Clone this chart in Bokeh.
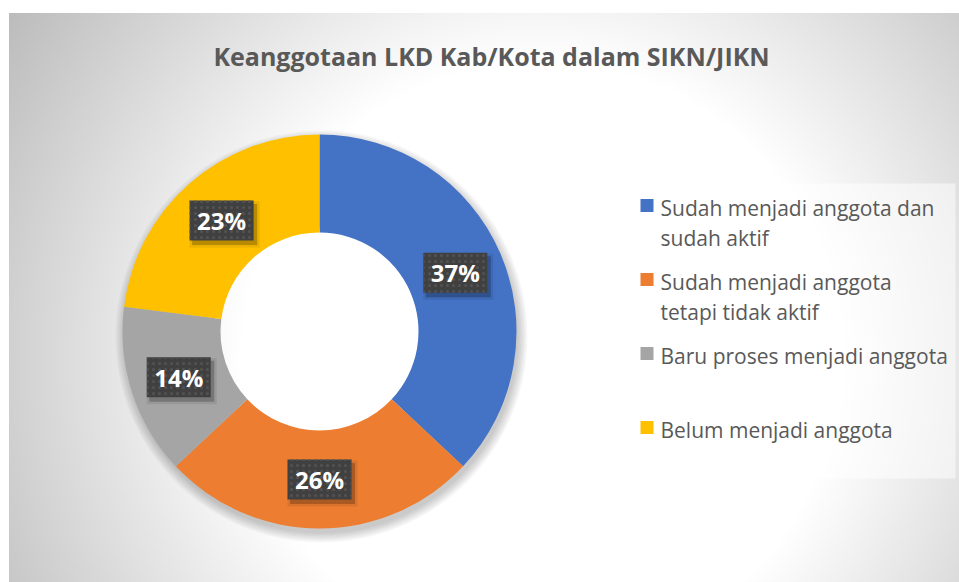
import math
import textwrap
import numpy as np
from bokeh.plotting import figure
from bokeh.models import ColumnDataSource, Range1d, Label
from bokeh.core.properties import value
from bokeh.embed import file_html
from bokeh.resources import INLINE

# ---- data ----
categories = [
    "Sudah menjadi anggota dan sudah aktif",
    "Sudah menjadi anggota tetapi tidak aktif",
    "Baru proses menjadi anggota",
    "Belum menjadi anggota",
]
values = [37, 26, 14, 23]
colors = ["#4472C4", "#ED7D31", "#A5A5A5", "#FFC000"]
title_text = "Keanggotaan LKD Kab/Kota dalam SIKN/JIKN"

# ---- layout (screen px, frame coordinates with y up) ----
W, H = 959, 582
BL, BT = 9, 13
FW, FH = W - BL, H - BT
cx, cy = 310, 251
R_OUT, R_IN = 197, 99
FONT = "Open Sans"

p = figure(width=W, height=H, x_range=Range1d(0, FW), y_range=Range1d(0, FH),
           output_backend="svg", toolbar_location=None,
           x_axis_location=None, y_axis_location=None,
           min_border_left=BL, min_border_top=BT, min_border_right=0, min_border_bottom=0,
           border_fill_color="white", background_fill_color="white",
           outline_line_color=None)
p.grid.visible = False

# radial gradient background (concentric rings)
gcx, gcy = 531, 222
radii = np.arange(780, 290, -5)
grays = [int(max(188, min(255, 255 - 0.2 * (r - 300)))) for r in radii]
p.circle(x=[gcx] * len(radii), y=[gcy] * len(radii), radius=radii,
         fill_color=[f"#{g:02x}{g:02x}{g:02x}" for g in grays], line_color=None)

# donut shadow
for k in range(7):
    p.annulus(x=cx + 2, y=cy - 5, inner_radius=R_IN + 10, outer_radius=R_OUT + k * 1.5,
              fill_color="black", fill_alpha=0.03, line_color=None)

# donut
total = sum(values)
fracs = np.array(values) / total
cum = np.concatenate([[0], np.cumsum(fracs)])
src = ColumnDataSource(dict(
    start=[math.pi / 2 - 2 * math.pi * c for c in cum[:-1]],
    end=[math.pi / 2 - 2 * math.pi * c for c in cum[1:]],
    color=colors,
))
p.annular_wedge(x=cx, y=cy, inner_radius=R_IN, outer_radius=R_OUT,
                start_angle="start", end_angle="end", direction="clock",
                fill_color="color", line_color=None, source=src)

# data labels
mid = cum[:-1] + fracs / 2
r_lab = (R_IN + R_OUT) / 2
lx = cx + r_lab * np.sin(2 * np.pi * mid)
ly = cy + r_lab * np.cos(2 * np.pi * mid)
labels = [f"{v}%" for v in values]
p.rect(x=lx + 3, y=ly - 4, width=70, height=46, fill_color="black", fill_alpha=0.08, line_color=None)
p.rect(x=lx + 3, y=ly - 4, width=65, height=41, fill_color="black", fill_alpha=0.22, line_color=None)
p.rect(x=lx, y=ly, width=64, height=40, fill_color="#404040", line_color=None,
       hatch_pattern="dot", hatch_color="#525252", hatch_scale=6, hatch_weight=1.5)
p.text(x=lx, y=ly, text=labels, text_align="center", text_baseline="middle",
       text_color="white", text_font=value(FONT), text_font_style="bold",
       text_font_size="24px")

# legend
p.quad(left=618, right=946, bottom=104, top=399, fill_color="white", fill_alpha=0.5, line_color=None)
item_y = [377 - 74 * i for i in range(len(categories))]
p.rect(x=[637.5] * len(categories), y=item_y, width=13, height=13, fill_color=colors, line_color=None)
tx, ty, tt = [], [], []
for cat, yy in zip(categories, item_y):
    for j, line in enumerate(textwrap.wrap(cat, 27)):
        tx.append(651)
        ty.append(yy - 2 - 30 * j)
        tt.append(line)
p.text(x=tx, y=ty, text=tt, text_align="left", text_baseline="middle",
       text_color="#595959", text_font=value(FONT), text_font_size="21px")

# title
p.add_layout(Label(x=482, y=527, text=title_text, text_align="center", text_baseline="middle",
                   text_color="#595959", text_font=FONT, text_font_style="bold",
                   text_font_size="25px"))

open("out.html", "w").write(file_html(p, INLINE))
